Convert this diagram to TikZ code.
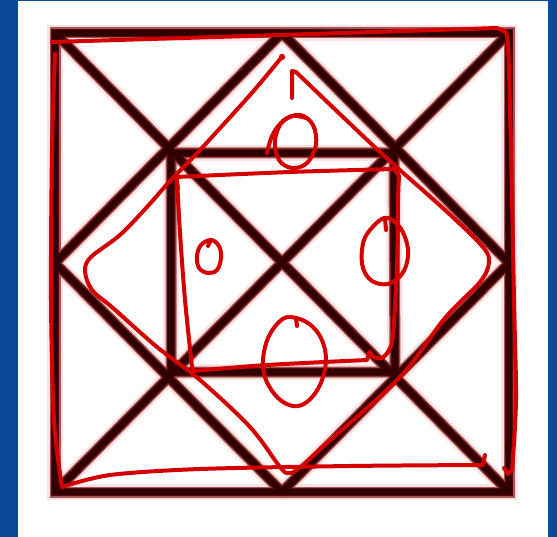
\documentclass[tikz,border=0pt]{standalone}
\usetikzlibrary{positioning, calc}

\definecolor{panelblue}{RGB}{12,74,152}
\definecolor{printcore}{RGB}{48,0,0}
\definecolor{printmid}{RGB}{90,10,10}
\definecolor{printblur}{RGB}{165,85,85}
\definecolor{printglow}{RGB}{250,226,226}
\definecolor{penred}{RGB}{212,0,0}

\begin{document}
\begin{tikzpicture}[
      x=1pt, y=-1pt,
      pen/.style={draw=penred, line width=4pt, line cap=round, line join=round},
      penblob/.style={fill=penred},
  ]
    % Panel
    \useasboundingbox (0,0) rectangle (557,537);
    \fill[panelblue] (0,0) rectangle (557,537);
    \fill[white] (18,1.5) rectangle (548,537);

    % Printed figure: outer square, side midpoints, inner square
    \coordinate (tl) at (55,33);   \coordinate (tr) at (509,33);
    \coordinate (br) at (509,492); \coordinate (bl) at (55,492);
    \coordinate (mt) at (282,33);  \coordinate (mr) at (509,263);
    \coordinate (mb) at (282,492); \coordinate (ml) at (55,263);
    \coordinate (itl) at (171,153); \coordinate (itr) at (394,153);
    \coordinate (ibr) at (395,372); \coordinate (ibl) at (171,372);

    % blurred print: widest pale layer first, dark core last
    \foreach \w/\c in {16pt/printglow, 11pt/printblur, 8.5pt/printmid, 6pt/printcore} {
      \draw[line width=\w, draw=\c]
        (tl) -- (tr) -- (br) -- (bl) -- cycle;
      \draw[line width=\w, draw=\c, line join=round]
        (tl) -- (br) (tr) -- (bl)
        (mt) -- (mr) -- (mb) -- (ml) -- cycle
        (itl) -- (itr) -- (ibr) -- (ibl) -- cycle;
    }

    % Pen: outer square, top and right side
    \draw[pen] plot[smooth, tension=0.5] coordinates {(52,42) (280,35) (497,28)}
      -- plot[smooth, tension=0.5] coordinates {(504,31) (508,45) (511,150) (514,300) (516,400) (512,470)}
      -- (508,474) -- (504,468);
    % Pen: outer square, left side and bottom
    \draw[pen] plot[smooth, tension=0.5] coordinates {(55,54) (52,150) (51,300) (54,420) (62,487)}
      -- plot[smooth, tension=0.5] coordinates {(62,487) (110,475) (200,469) (350,466) (483,465)}
      -- (485,455);

    % Pen: diamond
    \draw[pen] (292,98) -- (292,71) -- (296,72)
      -- plot[smooth, tension=0.55] coordinates {(296,72) (380,152) (445,210) (482,246)
         (489,262) (480,282) (445,318) (400,377) (327,443) (298,469) (288,473)
         (280,467) (250,427) (200,380) (157,347) (113,308) (92,290) (85,271)
         (91,257) (120,235) (147,207) (170,181) (200,150) (250,95) (281,58)};
    \fill[penblob] (282,57) circle (3.2);

    % Pen: inner square
    \draw[pen] (178,188) -- (176,177)
      -- plot[smooth, tension=0.5] coordinates {(176,177) (290,172) (394,169)}
      -- plot[smooth, tension=0.5] coordinates {(399,176) (398,200) (397,267) (393,335) (389,350) (382,358) (374,357) (370,352)};
    \draw[pen] plot[smooth, tension=0.5] coordinates {(177,179) (180,233) (185,300) (192,367)}
      -- plot[smooth, tension=0.5] coordinates {(194,371) (267,365) (367,360)}
      -- (369,353);

    % Pen: circles
    \draw[pen] plot[smooth, tension=0.6] coordinates {(267,153) (272,136) (281,123) (293,116) (306,118)};
    \draw[pen] plot[smooth cycle, tension=0.6] coordinates {(300,115) (313,125) (316,145)
      (307,163) (292,168) (279,160) (275,140) (283,121)};
    \draw[pen] (208,246) -- (211,240);
    \draw[pen] plot[smooth cycle, tension=0.6] coordinates {(211,240) (219,246) (221,258)
      (217,270) (208,273) (199,268) (197,256) (201,245)};
    \draw[pen] (386,230) -- (385,219);
    \draw[pen] plot[smooth cycle, tension=0.6] coordinates {(384,218) (398,225) (406,240)
      (408,257) (402,274) (388,284) (372,281) (363,268) (362,250) (367,234)};
    \draw[pen] (296,318) -- (297,326);
    \draw[pen] plot[smooth cycle, tension=0.6] coordinates {(290,317) (308,323) (321,338)
      (326,360) (320,385) (307,402) (293,406) (278,398) (266,380) (263,360) (268,338) (279,322)};
\end{tikzpicture}
\end{document}
